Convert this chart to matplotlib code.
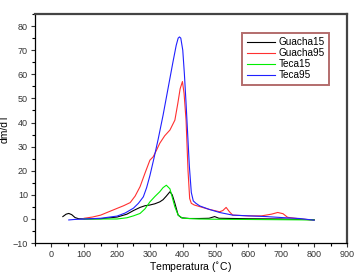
import matplotlib.pyplot as plt
from matplotlib.ticker import MultipleLocator

plt.rcParams['font.family'] = ['Liberation Sans', 'DejaVu Sans']

# Guacha15 (black)
t_g15 = [35, 45, 53, 62, 72, 83, 100, 150, 200, 230, 250, 270, 285, 300, 315,
         330, 340, 350, 361, 368, 376, 386, 396, 420, 450, 480, 497, 510, 600, 700, 800]
v_g15 = [1.0, 2.0, 2.3, 1.8, 0.6, 0.1, 0.0, 0.1, 0.8, 2.0, 3.5, 4.8, 5.5, 5.8, 6.3,
         7.1, 8.0, 9.5, 11.3, 10.0, 6.5, 1.6, 0.5, 0.2, 0.2, 0.3, 1.0, 0.3, 0.1, 0.0, -0.3]

# Guacha95 (red)
t_g95 = [100, 125, 150, 175, 200, 220, 240, 255, 270, 285, 300, 310, 320, 330, 345,
         361, 376, 385, 392, 399, 404, 410, 416, 421, 426, 435, 450, 480, 512, 522,
         532, 542, 552, 600, 640, 670, 689, 705, 719, 760, 800]
v_g95 = [0.3, 0.8, 1.6, 3.0, 4.4, 5.5, 6.8, 9.5, 13.4, 19.0, 24.4, 25.8, 28.5, 31.4, 34.5,
         36.9, 41.0, 48.0, 54.0, 57.0, 52.0, 41.0, 20.0, 8.5, 6.5, 5.8, 5.2, 4.0, 3.0, 3.5,
         4.8, 3.0, 1.6, 1.3, 1.3, 2.0, 2.7, 2.2, 0.7, 0.0, -0.5]

# Teca15 (green)
t_t15 = [100, 150, 200, 230, 250, 270, 285, 300, 315, 330, 340, 350, 361, 368, 376,
         386, 400, 450, 500, 600, 700, 800]
v_t15 = [0.0, 0.0, 0.0, 0.5, 1.3, 2.3, 4.2, 7.1, 9.3, 11.3, 13.0, 14.0, 12.5, 9.0, 5.0,
         1.6, 0.3, 0.0, -0.1, -0.2, -0.3, -0.4]

# Teca95 (blue)
t_t95 = [53, 70, 100, 150, 200, 225, 250, 265, 280, 290, 300, 312, 325, 340, 355,
         370, 380, 386, 390, 394, 400, 405, 410, 415, 420, 426, 432, 440, 452, 480,
         512, 552, 600, 654, 700, 755, 800]
v_t95 = [-0.4, -0.2, 0.0, 0.3, 1.2, 2.5, 4.5, 6.5, 9.2, 13.0, 18.0, 25.0, 33.0, 43.0, 54.0,
         65.0, 72.0, 75.0, 75.5, 75.0, 70.0, 60.0, 48.0, 35.0, 22.0, 11.0, 7.5, 6.5, 5.4, 4.0,
         2.7, 1.6, 1.3, 1.0, 0.6, 0.2, -0.5]

series = [(t_g15, v_g15, 'Guacha15', 'black'),
          (t_g95, v_g95, 'Guacha95', '#ff3030'),
          (t_t15, v_t15, 'Teca15', '#00ee00'),
          (t_t95, v_t95, 'Teca95', '#2020ff')]

fig = plt.figure(figsize=(3.6, 2.75), dpi=100)
ax = fig.add_axes([0.097, 0.116, 0.867, 0.833])
for t, v, lab, col in series:
    ax.plot(t, v, color=col, lw=0.8, label=lab)

ax.set_xlim(-50, 900)
ax.set_ylim(-10, 85)
ax.xaxis.set_major_locator(MultipleLocator(100))
ax.xaxis.set_minor_locator(MultipleLocator(50))
ax.yaxis.set_major_locator(MultipleLocator(10))
ax.yaxis.set_minor_locator(MultipleLocator(5))
ax.tick_params(which='major', length=3, width=0.8, labelsize=6.5, colors='#333333', pad=2)
ax.tick_params(which='minor', length=2, width=0.8)
ax.set_xlabel('Temperatura ($^{\\circ}$C)', fontsize=7.5, labelpad=1)
ax.set_ylabel('dm/dT', fontsize=7.5)
ax.yaxis.set_label_coords(-0.08, 0.5)

for s in ['top', 'right']:
    ax.spines[s].set_color('#444444')
    ax.spines[s].set_linewidth(1.6)
for s in ['left', 'bottom']:
    ax.spines[s].set_linewidth(0.9)

leg = ax.legend(loc='upper left', bbox_to_anchor=(0.648, 0.94), fontsize=7.2,
                frameon=True, fancybox=False, handlelength=2.8, handletextpad=0.4,
                borderpad=0.45, labelspacing=0.1)
leg.get_frame().set_edgecolor('#a04848')
leg.get_frame().set_linewidth(1.4)

fig.savefig('out.png', dpi=100)
